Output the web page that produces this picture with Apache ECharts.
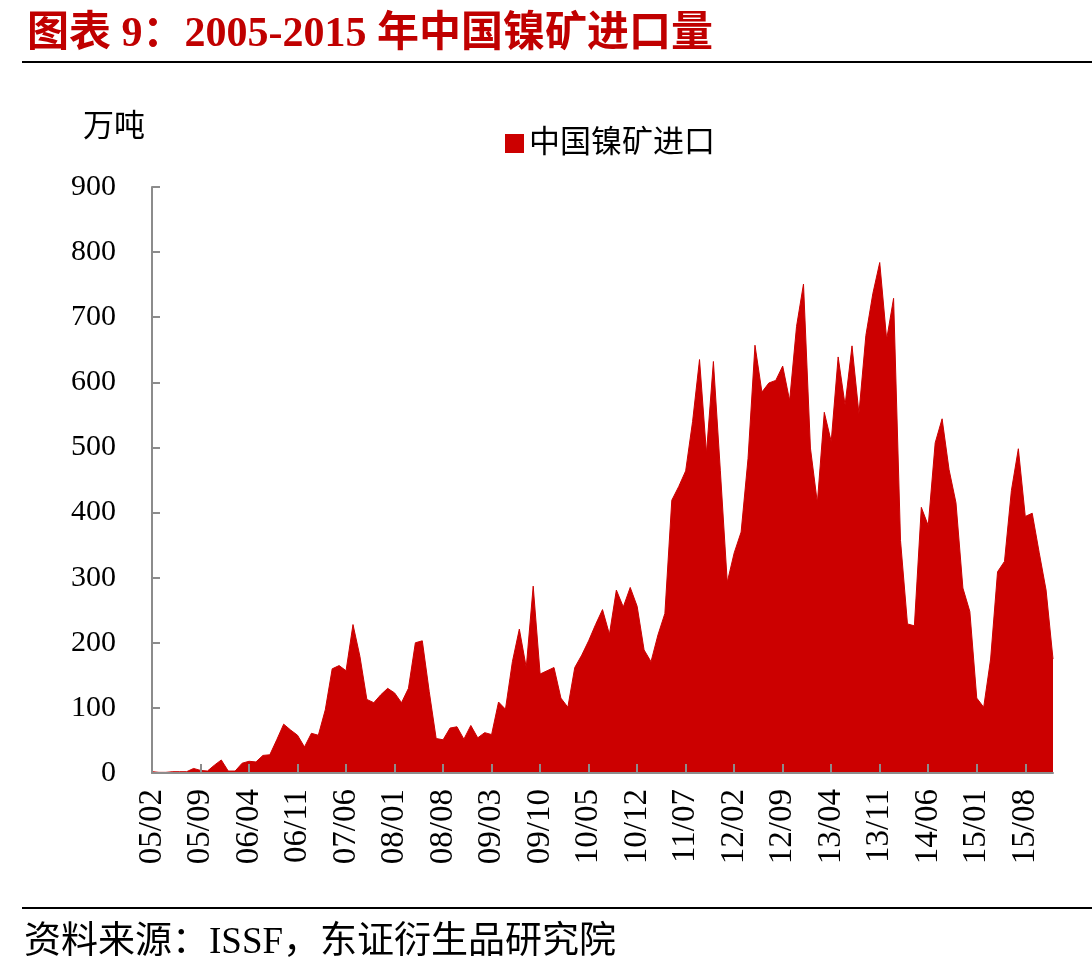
<!DOCTYPE html>
<html>
<head>
<meta charset="utf-8">
<script src="https://cdn.jsdelivr.net/npm/echarts@6/dist/echarts.min.js"></script>
<style>
  html, body { margin: 0; padding: 0; background: #fff; }
  #main { width: 1092px; height: 974px; }
</style>
</head>
<body>
<div id="main"></div>
<script>
// 月份：2005/02 - 2015/12
var startYear = 2005, startMonth = 2, monthCount = 131;
var months = [];
for (var k = 0; k < monthCount; k++) {
    var m = startMonth - 1 + k;
    var yy = (startYear + Math.floor(m / 12)) % 100;
    var mm = m % 12 + 1;
    months.push((yy < 10 ? '0' : '') + yy + '/' + (mm < 10 ? '0' : '') + mm);
}

// 中国镍矿进口量（万吨）
var imports = [
    2, 1, 1, 2, 2, 2, 7, 4, 3, 12,
    20, 3, 3, 15, 18, 17, 27, 28, 51, 75,
    66, 58, 40, 61, 58, 97, 160, 165, 157, 228,
    179, 113, 108, 120, 130, 123, 108, 130, 200, 203,
    125, 53, 51, 69, 71, 52, 73, 54, 62, 59,
    109, 98, 171, 221, 162, 287, 152, 157, 162, 115,
    101, 162, 181, 203, 228, 251, 213, 281, 255, 285,
    256, 189, 171, 212, 245, 419, 440, 464, 540, 635,
    491, 632, 465, 293, 338, 370, 483, 657, 585, 599,
    603, 625, 572, 686, 751, 499, 415, 554, 509, 639,
    565, 656, 552, 672, 736, 784, 666, 729, 357, 229,
    226, 408, 380, 507, 544, 466, 415, 284, 248, 115,
    101, 175, 309, 325, 434, 498, 394, 399, 339, 281,
    175
];

var titleText = '图表 9：2005-2015 年中国镍矿进口量';
var seriesName = '中国镍矿进口';
var unitText = '万吨';
var sourceText = '资料来源：ISSF，东证衍生品研究院';

var serif = "'Liberation Serif', 'Noto Sans CJK SC', serif";
var red = '#cc0000';
var axisGrey = '#8c8c8c';

var myChart = echarts.init(document.getElementById('main'));

var option = {
    backgroundColor: '#fff',
    animation: false,
    title: {
        text: titleText,
        left: 22,
        top: 9,
        textStyle: {
            color: '#c00000',
            fontSize: 42,
            fontWeight: 'bold',
            fontFamily: serif
        }
    },
    legend: {
        data: [seriesName],
        left: 500,
        top: 123,
        icon: 'rect',
        itemWidth: 19,
        itemHeight: 19,
        itemGap: 10,
        textStyle: {
            color: '#000',
            fontSize: 31,
            fontFamily: serif
        }
    },
    grid: {
        left: 152,
        right: 39,
        top: 187,
        bottom: 201
    },
    xAxis: {
        type: 'category',
        data: months,
        boundaryGap: false,
        z: 10,
        axisLine: { lineStyle: { color: axisGrey, width: 2 } },
        axisTick: {
            inside: true,
            length: 9,
            interval: 6,
            lineStyle: { color: axisGrey, width: 2 }
        },
        axisLabel: {
            interval: 6,
            rotate: 90,
            margin: 16,
            color: '#000',
            fontSize: 33,
            fontFamily: serif
        },
        splitLine: { show: false }
    },
    yAxis: {
        type: 'value',
        min: 0,
        max: 900,
        interval: 100,
        z: 10,
        axisLine: { show: true, lineStyle: { color: axisGrey, width: 2 } },
        axisTick: {
            show: true,
            inside: true,
            length: 8,
            lineStyle: { color: axisGrey, width: 2 }
        },
        axisLabel: {
            margin: 36,
            color: '#000',
            fontSize: 30,
            fontFamily: serif
        },
        splitLine: { show: false }
    },
    graphic: [
        {
            type: 'line',
            shape: { x1: 22, y1: 62, x2: 1092, y2: 62 },
            style: { stroke: '#000', lineWidth: 2 }
        },
        {
            type: 'line',
            shape: { x1: 22, y1: 908, x2: 1092, y2: 908 },
            style: { stroke: '#000', lineWidth: 2 }
        },
        {
            type: 'text',
            left: 83,
            top: 112,
            style: { text: unitText, fill: '#000', fontSize: 31, fontFamily: serif }
        },
        {
            type: 'text',
            left: 24,
            top: 925,
            style: { text: sourceText, fill: '#000', fontSize: 37, fontFamily: serif }
        }
    ],
    series: [
        {
            name: seriesName,
            type: 'line',
            data: imports,
            symbol: 'none',
            itemStyle: { color: red },
            lineStyle: { color: red, width: 1 },
            areaStyle: { color: red, opacity: 1 }
        }
    ]
};

myChart.setOption(option);
</script>
</body>
</html>
